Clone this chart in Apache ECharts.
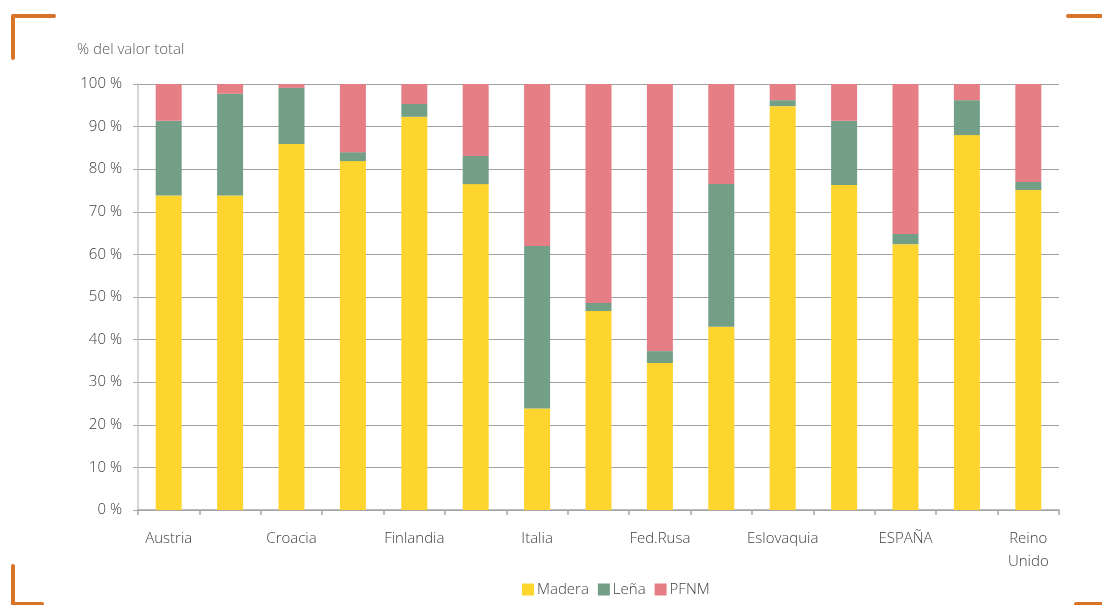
<!DOCTYPE html>
<html>
<head>
<meta charset="utf-8">
<script src="https://cdn.jsdelivr.net/npm/echarts@6/dist/echarts.min.js"></script>
<style>
html,body{margin:0;padding:0;background:#fff;}
#c{width:1102px;height:605px;}
</style>
</head>
<body>
<div id="c"></div>
<script>
const categories = ['Austria','Bélgica','Croacia','Rep. Checa','Finlandia','Francia','Italia','Letonia','Fed.Rusa','Polonia','Eslovaquia','Eslovenia','ESPAÑA','Suecia','Reino\nUnido'];
const madera = [73.8, 73.8, 85.9, 81.9, 92.3, 76.5, 23.8, 46.7, 34.5, 43.0, 94.8, 76.3, 62.4, 88.0, 75.1];
const lena   = [17.6, 23.9, 13.2, 2.1, 3.0, 6.6, 38.2, 1.9, 2.8, 33.5, 1.4, 15.1, 2.4, 8.2, 1.9];
const pfnm   = [8.6, 2.3, 0.9, 16.0, 4.7, 16.9, 38.0, 51.4, 62.7, 23.5, 3.8, 8.6, 35.2, 3.8, 23.0];
const seriesNames = ['Madera','Leña','PFNM'];
const yTitle = '% del valor total';

const colors = ['#FED52E','#739F87','#E67E86'];
const font = '"Open Sans", Lato, sans-serif';
const orange = '#D97328';

const chart = echarts.init(document.getElementById('c'), null, {renderer:'canvas'});
const mk = (name, data, i) => ({
  name, type:'bar', stack:'total', data, barWidth:26,
  itemStyle:{color:colors[i]}
});
chart.setOption({
  animation:false,
  textStyle:{fontFamily:font},
  title:{text:yTitle, left:72, top:37, textStyle:{fontSize:15, fontWeight:300, color:'#595959', fontFamily:font}},
  grid:{left:138, right:43, top:84, bottom:95},
  legend:{
    data:seriesNames, bottom:3, left:517, itemWidth:12, itemHeight:12, itemGap:9,
    icon:'rect', textStyle:{fontSize:15, fontWeight:300, color:'#404040', fontFamily:font, padding:[0,0,0,-2]}
  },
  xAxis:{
    type:'category', data:categories,
    axisLine:{lineStyle:{color:'#A6A6A6', width:1.5}},
    axisTick:{show:true, alignWithLabel:false, length:5, interval:0, lineStyle:{color:'#A6A6A6', width:1.5}},
    axisLabel:{interval:1, fontSize:15, fontWeight:300, color:'#404040', margin:17, lineHeight:23, fontFamily:font}
  },
  yAxis:{
    type:'value', min:0, max:100, interval:10,
    axisLine:{show:true, lineStyle:{color:'#C8C8C8', width:1.5}},
    axisTick:{show:true, length:5, lineStyle:{color:'#A6A6A6'}},
    axisLabel:{formatter:'{value} %', fontSize:15, fontWeight:300, color:'#404040', margin:16, fontFamily:font},
    splitLine:{lineStyle:{color:'#A0A0A0', width:1.2}}
  },
  series:[mk(seriesNames[0], madera, 0), mk(seriesNames[1], lena, 1), mk(seriesNames[2], pfnm, 2)],
  graphic:[
    {type:'polyline', shape:{points:[[13,58],[13,16],[54,16]]}, style:{stroke:orange, lineWidth:4, lineCap:'round', lineJoin:'round', fill:null}},
    {type:'line', shape:{x1:1068,y1:16,x2:1104,y2:16}, style:{stroke:orange, lineWidth:4, lineCap:'round'}},
    {type:'polyline', shape:{points:[[13,566],[13,604],[42,604]]}, style:{stroke:orange, lineWidth:4, lineCap:'round', fill:null}},
    {type:'line', shape:{x1:1076,y1:604,x2:1104,y2:604}, style:{stroke:orange, lineWidth:4, lineCap:'round'}}
  ]
});
</script>
</body>
</html>
